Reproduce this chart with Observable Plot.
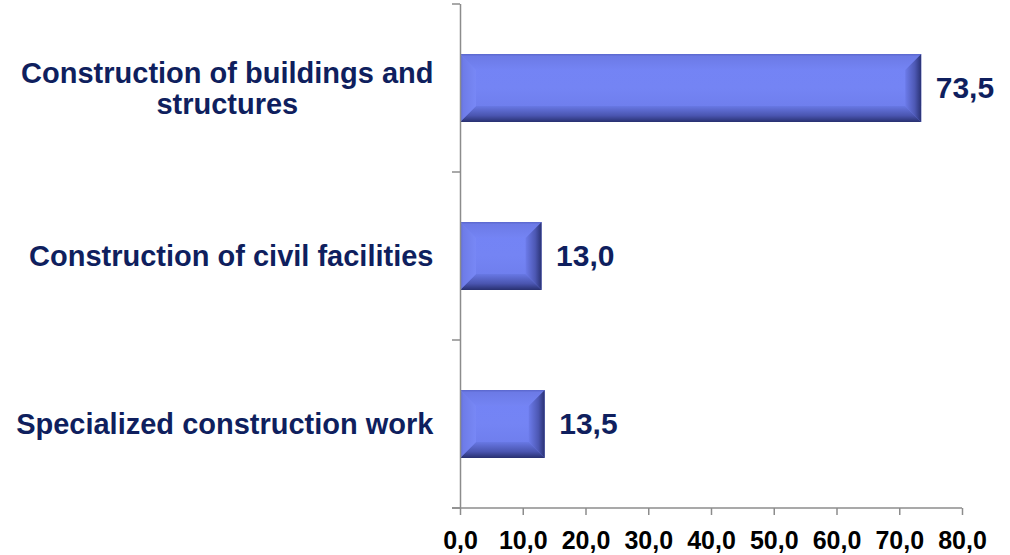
<!DOCTYPE html>
<html>
<head>
<meta charset="utf-8">
<script src="https://cdn.jsdelivr.net/npm/d3@7"></script>
<script src="https://cdn.jsdelivr.net/npm/@observablehq/plot@0.6"></script>
<style>
  html, body { margin: 0; padding: 0; background: #ffffff; }
  #chart { width: 1010px; height: 555px; }
</style>
</head>
<body>
<div id="chart"></div>
<script>
// ---- data ----
const categories = [
  "Construction of buildings and\nstructures",
  "Construction of civil facilities",
  "Specialized construction work"
];
const values = [73.5, 13.0, 13.5];
const xTicks = [0, 10, 20, 30, 40, 50, 60, 70, 80];

const data = categories.map((c, i) => ({category: c, value: values[i]}));
const fmt = v => v.toFixed(1).replace(".", ",");

const navy = "#0f1f5e";
const axisGray = "#8c8c8c";

// y ticks at category boundaries + bottom axis line, derived from layout
function frameLines(index, scales, vals, dims) {
  const {marginLeft, marginTop, marginBottom, marginRight, width, height} = dims;
  const g = d3.create("svg:g").attr("aria-label", "frame-lines");
  const n = categories.length;
  const inner = height - marginTop - marginBottom;
  for (let i = 0; i <= n; i++) {
    const yy = marginTop + i * inner / n;
    g.append("line")
      .attr("x1", marginLeft - 8).attr("x2", marginLeft)
      .attr("y1", yy).attr("y2", yy)
      .attr("stroke", axisGray).attr("stroke-width", 1.5);
  }
  g.append("line")
    .attr("x1", marginLeft - 8).attr("x2", width - marginRight)
    .attr("y1", height - marginBottom).attr("y2", height - marginBottom)
    .attr("stroke", axisGray).attr("stroke-width", 1.5);
  return g.node();
}

const chart = Plot.plot({
  width: 1010,
  height: 555,
  marginLeft: 460,
  marginRight: 48,
  marginTop: 4,
  marginBottom: 47,
  style: {fontFamily: "'Liberation Sans', Arial, sans-serif", background: "#ffffff"},
  x: {domain: [0, 80], label: null},
  y: {domain: categories, paddingInner: 0.595, paddingOuter: 0.2975, axis: null, label: null},
  marks: [
    Plot.barX(data, {x: "value", y: "category", fill: "#7282f2", ariaLabel: () => "bars"}),
    Plot.ruleX([0], {stroke: axisGray, strokeWidth: 1.5}),
    frameLines,
    Plot.axisX({
      ticks: xTicks, tickFormat: fmt, tickSize: 7, tickPadding: 16, label: null,
      stroke: axisGray, strokeWidth: 1.5, fill: "#000000",
      fontSize: 25, fontWeight: "bold"
    }),
    Plot.text(data, {
      y: "category", text: "category", frameAnchor: "left", textAnchor: "end",
      dx: -27, fontSize: 29, fontWeight: "bold", fill: navy, lineHeight: 1.07,
      ariaLabel: () => "category-labels"
    }),
    Plot.text(data, {
      x: "value", y: "category", text: d => fmt(d.value), dx: 14, textAnchor: "start",
      fontSize: 30, fontWeight: "bold", fill: navy
    })
  ]
});

document.getElementById("chart").appendChild(chart);

// ---- bevel decoration on the bars drawn by Plot ----
(function bevel() {
  const svg = d3.select(chart);
  const defs = svg.insert("defs", ":first-child");
  function grad(id, x2, y2, stops) {
    const lg = defs.append("linearGradient").attr("id", id)
      .attr("x1", 0).attr("y1", 0).attr("x2", x2).attr("y2", y2);
    stops.forEach(([o, c]) => lg.append("stop").attr("offset", o).attr("stop-color", c));
  }
  grad("bvFace", 0, 1, [[0, "#7383f6"], [0.5, "#7484f4"], [1, "#6b7ae8"]]);
  grad("bvTop", 0, 1, [[0, "#5a66cc"], [0.15, "#6c7ae6"], [1, "#7484f4"]]);
  grad("bvBottom", 0, 1, [[0, "#6878e4"], [0.6, "#4a55b0"], [1, "#283070"]]);
  grad("bvLeft", 1, 0, [[0, "#5e6bd4"], [0.2, "#6e7ce8"], [1, "#7888f6"]]);
  grad("bvRight", 1, 0, [[0, "#6c7bea"], [0.6, "#4d58b4"], [1, "#2a3274"]]);

  svg.selectAll('rect[aria-label="bars"]').each(function() {
    const r = d3.select(this);
    const g = d3.select(this.parentNode);
    const x = +r.attr("x"), y = +r.attr("y"), w = +r.attr("width"), h = +r.attr("height");
    r.attr("fill", "url(#bvFace)");
    const b = Math.min(16, w / 2, h / 2);
    const pts = {
      bvTop: [[x, y], [x + w, y], [x + w - b, y + b], [x + b, y + b]],
      bvBottom: [[x, y + h], [x + w, y + h], [x + w - b, y + h - b], [x + b, y + h - b]],
      bvLeft: [[x, y], [x + b, y + b], [x + b, y + h - b], [x, y + h]],
      bvRight: [[x + w, y], [x + w - b, y + b], [x + w - b, y + h - b], [x + w, y + h]]
    };
    for (const k of ["bvTop", "bvBottom", "bvLeft", "bvRight"]) {
      g.append("polygon")
        .attr("points", pts[k].map(p => p.join(",")).join(" "))
        .attr("fill", `url(#${k})`);
    }
  });
})();

// ---- center the lines of wrapped category labels ----
document.querySelectorAll('text[aria-label="category-labels"]').forEach(t => {
  const spans = Array.from(t.querySelectorAll("tspan"));
  if (spans.length > 1) {
    const lens = spans.map(s => s.getComputedTextLength());
    const max = Math.max(...lens);
    spans.forEach((s, i) => s.setAttribute("dx", -(max - lens[i]) / 2));
  }
});
</script>
</body>
</html>
